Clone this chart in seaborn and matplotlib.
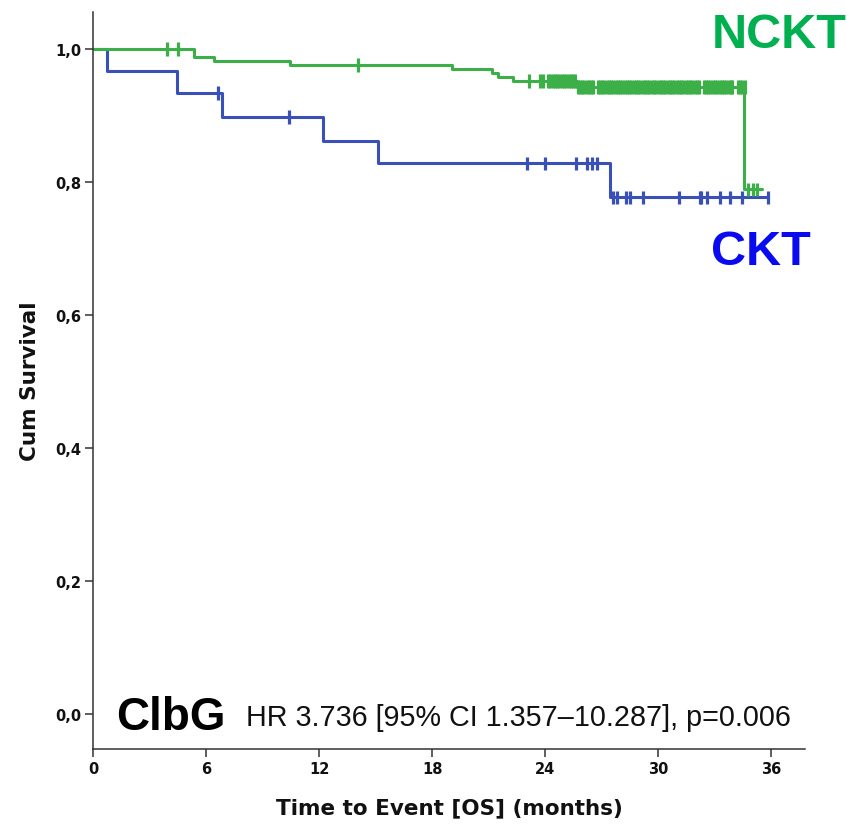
import matplotlib
matplotlib.use("Agg")
import matplotlib.pyplot as plt
import seaborn as sns
import pandas as pd

# Kaplan-Meier step curves: step start times (months) and survival level from that time on
ckt_times = [0.0, 0.71, 4.45, 6.84, 12.2, 15.13, 27.45, 35.85]
ckt_surv = [1.0, 0.967, 0.934, 0.898, 0.862, 0.828, 0.777, 0.777]

nckt_times = [0.0, 5.35, 6.41, 10.45, 19.06, 21.19, 21.5, 22.3, 25.7, 34.57, 35.53]
nckt_surv = [1.0, 0.988, 0.982, 0.976, 0.970, 0.964, 0.958, 0.952, 0.943, 0.789, 0.789]

# Censored observations (time, survival level at that time)
ckt_cens_t = [6.63, 10.4, 23.04, 24.0, 25.65, 26.23, 26.5, 26.77,
              27.61, 27.8, 28.27, 28.5, 29.19, 31.1, 32.2, 32.3, 32.6,
              33.3, 33.83, 34.47, 35.85]
ckt_cens_s = [0.934, 0.898, 0.828, 0.828, 0.828, 0.828, 0.828, 0.828,
              0.777, 0.777, 0.777, 0.777, 0.777, 0.777, 0.777, 0.777, 0.777,
              0.777, 0.777, 0.777, 0.777]

nckt_cens_early_t = [3.92, 4.5, 14.06]
nckt_cens_early_s = [1.0, 1.0, 0.976]
nckt_cens_a_t = [23.15, 23.73, 23.89, 24.16, 24.28, 24.4, 24.52, 24.64, 24.76,
                 24.88, 25.0, 25.12, 25.24, 25.36, 25.48, 25.6]
nckt_cens_b_t = [25.72, 25.84, 25.96, 26.08, 26.2, 26.32, 26.44, 26.55,
                 26.78, 26.9, 27.02, 27.14, 27.26, 27.38, 27.5, 27.62, 27.74,
                 27.86, 27.98, 28.1, 28.22, 28.34, 28.46, 28.58, 28.7, 28.82,
                 28.94, 29.06, 29.18, 29.3, 29.42, 29.54, 29.66, 29.78, 29.9,
                 30.02, 30.14, 30.26, 30.38, 30.5, 30.62, 30.74, 30.86, 30.98,
                 31.1, 31.22, 31.34, 31.46, 31.58, 31.7, 31.82, 31.94, 32.06,
                 32.18, 32.42, 32.54, 32.66, 32.78, 32.9, 33.02, 33.14, 33.26,
                 33.38, 33.5, 33.62, 33.74, 33.86, 33.94, 34.22, 34.34, 34.46,
                 34.6]
nckt_cens_late_t = [34.79, 35.05, 35.26]

x_ticks = [0, 6, 12, 18, 24, 30, 36]
y_ticks = [0.0, 0.2, 0.4, 0.6, 0.8, 1.0]
y_tick_labels = ["0,0", "0,2", "0,4", "0,6", "0,8", "1,0"]

groups = ["CKT", "NCKT"]
line_colors = {"CKT": "#3A50B9", "NCKT": "#3CAF48"}
label_colors = {"CKT": "#0A0AF0", "NCKT": "#00B050"}

curves = pd.concat([
    pd.DataFrame({"time": ckt_times, "surv": ckt_surv, "group": "CKT"}),
    pd.DataFrame({"time": nckt_times, "surv": nckt_surv, "group": "NCKT"}),
], ignore_index=True)

nckt_cens_t = nckt_cens_early_t + nckt_cens_a_t + nckt_cens_b_t + nckt_cens_late_t
nckt_cens_s = (nckt_cens_early_s + [0.952] * len(nckt_cens_a_t)
               + [0.943] * len(nckt_cens_b_t) + [0.789] * len(nckt_cens_late_t))
censored = pd.concat([
    pd.DataFrame({"time": ckt_cens_t, "surv": ckt_cens_s, "group": "CKT"}),
    pd.DataFrame({"time": nckt_cens_t, "surv": nckt_cens_s, "group": "NCKT"}),
], ignore_index=True)

sns.set_theme(style="white")
plt.rcParams["font.family"] = ["DejaVu Sans"]

W, H = 847, 828
fig = plt.figure(figsize=(W / 100, H / 100), dpi=100)
ax = fig.add_axes([93.3 / W, 1 - 750 / H, (805 - 93.3) / W, (750 - 13) / H])

sns.lineplot(data=curves, x="time", y="surv", hue="group", hue_order=groups,
             palette=line_colors, drawstyle="steps-post", estimator=None,
             sort=False, linewidth=2.2, legend=False, ax=ax)
sns.scatterplot(data=censored, x="time", y="surv", hue="group", hue_order=groups,
                palette=line_colors, marker="|", s=95, linewidth=2.3,
                legend=False, ax=ax, zorder=3)

ax.set_xlim(0, 37.8)
ax.set_ylim(-0.0526, 1.0556)
ax.set_xticks(x_ticks)
ax.set_xticklabels([str(t) for t in x_ticks])
ax.set_yticks(y_ticks)
ax.set_yticklabels(y_tick_labels)
ax.tick_params(axis="both", direction="out", length=5.5, width=1.1,
               color="#333333", labelsize=10.5, pad=3, bottom=True, left=True)
for lab in ax.get_xticklabels() + ax.get_yticklabels():
    lab.set_fontweight("bold")
    lab.set_color("#111111")
ax.set_xlabel("")
ax.set_ylabel("")
for side in ["top", "right"]:
    ax.spines[side].set_visible(False)
for side in ["left", "bottom"]:
    ax.spines[side].set_color("#333333")
    ax.spines[side].set_linewidth(1.1)

fig.text(449 / W, 1 - 808 / H, "Time to Event [OS] (months)", ha="center",
         va="center", fontsize=15.5, fontweight="bold", color="#111111")
fig.text(30 / W, 1 - 381 / H, "Cum Survival", ha="center", va="center",
         rotation=90, fontsize=15.5, fontweight="bold", color="#111111")

sans = ["Liberation Sans", "DejaVu Sans"]
fig.text(712 / W, 1 - 48 / H, "NCKT", family=sans, fontsize=35,
         fontweight="bold", color=label_colors["NCKT"], va="baseline")
fig.text(711 / W, 1 - 265 / H, "CKT", family=sans, fontsize=35,
         fontweight="bold", color=label_colors["CKT"], va="baseline")
fig.text(116 / W, 1 - 730 / H, "ClbG", family=sans, fontsize=33,
         fontweight="bold", color="black", va="baseline")
fig.text(246 / W, 1 - 726 / H, "HR 3.736 [95% CI 1.357\u201310.287], p=0.006",
         family=sans, fontsize=20.7, color="#111111", va="baseline")

fig.savefig("out.png", dpi=100)
